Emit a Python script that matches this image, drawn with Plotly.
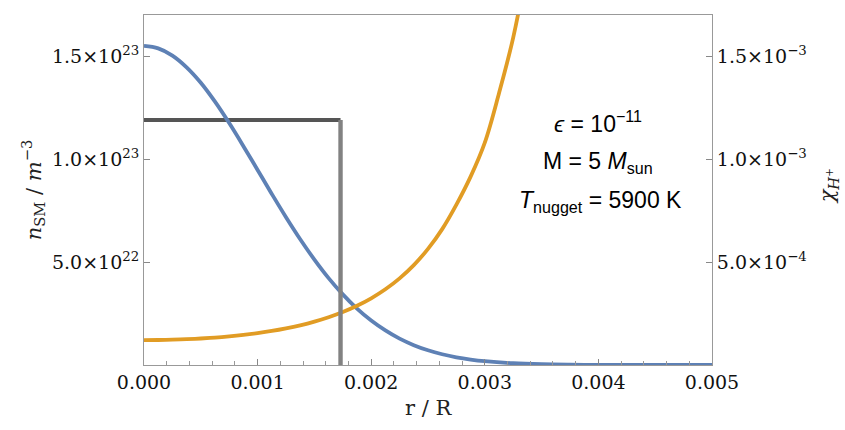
import plotly.graph_objects as go

# ---- data ----
X_R = [0.0, 0.000125, 0.00025, 0.000375, 0.0005, 0.000625, 0.00075, 0.000875,
       0.001, 0.001125, 0.00125, 0.001375, 0.0015, 0.001625, 0.00175, 0.001875,
       0.002, 0.002125, 0.00225, 0.002375, 0.0025, 0.002625, 0.00275, 0.002875,
       0.003, 0.00325, 0.0035, 0.00375, 0.004, 0.00425, 0.0045, 0.00475, 0.005]
N_SM = [1.55e23, 1.538e23, 1.503e23, 1.446e23, 1.371e23, 1.279e23, 1.175e23,
        1.063e23, 9.47e22, 8.31e22, 7.18e22, 6.11e22, 5.12e22, 4.22e22, 3.43e22,
        2.74e22, 2.16e22, 1.68e22, 1.28e22, 9.64e21, 7.14e21, 5.21e21, 3.74e21,
        2.65e21, 1.84e21, 8.5e20, 3.7e20, 1.5e20, 6e19, 2e19, 7e18, 2e18, 1e18]
X_CHI = [0.0, 0.000125, 0.00025, 0.000375, 0.0005, 0.000625, 0.00075, 0.000875,
         0.001, 0.001125, 0.00125, 0.001375, 0.0015, 0.001625, 0.00175, 0.001875,
         0.002, 0.002125, 0.00225, 0.002375, 0.0025, 0.002625, 0.00275, 0.002875,
         0.003, 0.003125, 0.00325, 0.003375, 0.0035]
CHI_H = [1.21e-4, 1.215e-4, 1.229e-4, 1.253e-4, 1.287e-4, 1.332e-4, 1.390e-4,
         1.461e-4, 1.548e-4, 1.652e-4, 1.778e-4, 1.927e-4, 2.106e-4, 2.318e-4,
         2.572e-4, 2.876e-4, 3.24e-4, 3.678e-4, 4.208e-4, 4.853e-4, 5.64e-4,
         6.60e-4, 7.79e-4, 9.15e-4, 1.08e-3, 1.32e-3, 1.59e-3, 1.95e-3, 2.4e-3]
NUGGET_R = 0.00173
N_LEVEL = 1.19e23

X_TICKS = [0.0, 0.001, 0.002, 0.003, 0.004, 0.005]
X_TICKTEXT = ["0.000", "0.001", "0.002", "0.003", "0.004", "0.005"]
Y1_TICKS = [5e22, 1e23, 1.5e23]
Y1_TICKTEXT = ["5.0×10<sup>22</sup>", "1.0×10<sup>23</sup>", "1.5×10<sup>23</sup>"]
Y2_TICKS = [5e-4, 1e-3, 1.5e-3]
Y2_TICKTEXT = ["5.0×10<sup>−4</sup>", "1.0×10<sup>−3</sup>", "1.5×10<sup>−3</sup>"]

BLUE = "#5E81B5"
ORANGE = "#E19C24"
SERIF = "DejaVu Serif"
SANS = "Liberation Sans"

fig = go.Figure()
# horizontal step (under the curves)
fig.add_trace(go.Scatter(x=[0.0, NUGGET_R], y=[N_LEVEL, N_LEVEL], mode="lines",
                         line=dict(color="#555555", width=4), showlegend=False,
                         hoverinfo="skip"))
fig.add_trace(go.Scatter(x=X_R, y=N_SM, mode="lines", line=dict(color=BLUE, width=3.8,
                         shape="spline"), showlegend=False))
fig.add_trace(go.Scatter(x=X_CHI, y=CHI_H, mode="lines", yaxis="y2",
                         line=dict(color=ORANGE, width=3.8, shape="spline"),
                         showlegend=False))

# vertical step on top of the curves
fig.add_shape(type="line", xref="x", yref="y", x0=NUGGET_R, x1=NUGGET_R,
              y0=0, y1=N_LEVEL, line=dict(color="#828282", width=4.4), layer="above")

axis_common = dict(showline=True, linecolor="#999999", linewidth=1, showgrid=False,
                   zeroline=False, ticks="inside", tickcolor="#888888",
                   tickfont=dict(family=SERIF, size=19, color="#111111"))

fig.update_layout(
    width=845, height=430, autosize=False,
    margin=dict(l=144, r=133, t=15, b=65),
    paper_bgcolor="white", plot_bgcolor="white",
    xaxis=dict(range=[0, 0.005], tickmode="array", tickvals=X_TICKS,
               ticktext=X_TICKTEXT, ticklen=6, mirror=True,
               minor=dict(dtick=0.0002, ticks="inside", ticklen=4, tickcolor="#999999",
                          showgrid=False),
               **axis_common),
    yaxis=dict(range=[0, 1.7e23], tickmode="array", tickvals=Y1_TICKS,
               ticktext=Y1_TICKTEXT, ticklen=6, **axis_common),
    yaxis2=dict(range=[0, 1.7e-3], tickmode="array", tickvals=Y2_TICKS,
                ticktext=Y2_TICKTEXT, ticklen=6, overlaying="y", side="right",
                **axis_common),
)

ann_font = dict(family=SANS, size=23, color="black")
for txt, xx, yy in [("<i>ϵ</i> = 10<sup>−11</sup>", 0.799, 0.695),
                    ("M = 5 <i>M</i><sub>sun</sub>", 0.799, 0.580),
                    ("<i>T</i><sub>nugget</sub> = 5900 K", 0.804, 0.466)]:
    fig.add_annotation(xref="paper", yref="paper", x=xx, y=yy, xanchor="center",
                       yanchor="middle", text=txt, showarrow=False, font=ann_font)

title_font = dict(family=SERIF, size=21, color="#222222")
fig.add_annotation(xref="paper", yref="paper", x=-0.195, y=0.5, textangle=-90,
                   xanchor="center", yanchor="middle",
                   text="<i>n</i><sub>SM</sub> / <i>m</i><sup>−3</sup>",
                   showarrow=False, font=title_font)
fig.add_annotation(xref="paper", yref="paper", x=1.204, y=0.51, textangle=-90,
                   xanchor="center", yanchor="middle",
                   text="<i>χ</i><sub><i>H</i><sup>+</sup></sub>",
                   showarrow=False, font=title_font)
fig.add_annotation(xref="paper", yref="paper", x=0.5, y=-0.123,
                   xanchor="center", yanchor="middle",
                   text="r / R", showarrow=False, font=title_font)

fig.write_html("out.html")
